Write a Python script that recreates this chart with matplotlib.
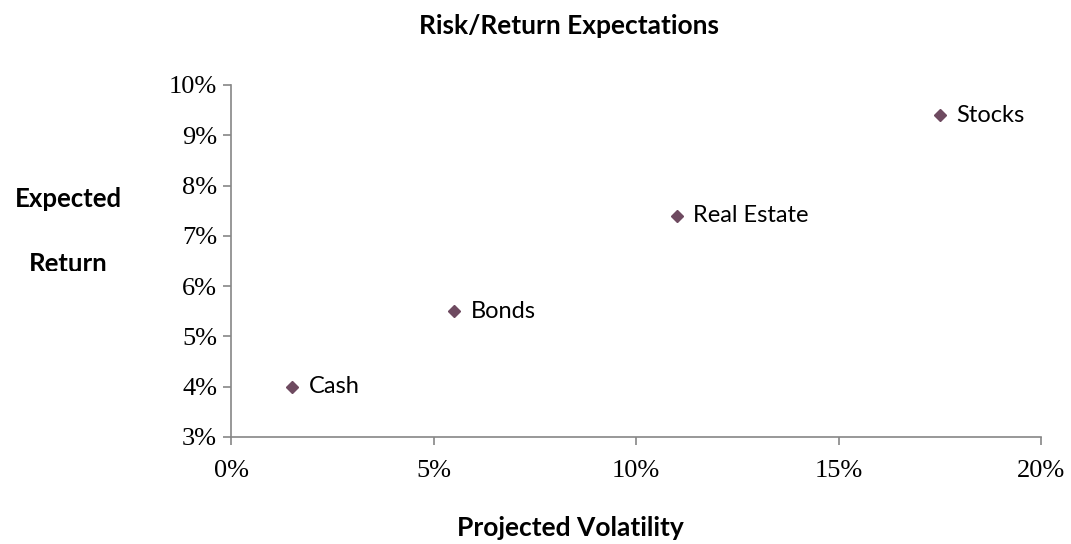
import matplotlib
matplotlib.use("Agg")
import matplotlib.pyplot as plt
from matplotlib.ticker import FuncFormatter
from matplotlib.transforms import Bbox, TransformedBbox

assets = ["Cash", "Bonds", "Real Estate", "Stocks"]
volatility = [1.5, 5.5, 11.0, 17.5]
expected_return = [4.0, 5.5, 7.4, 9.4]

x_ticks = [0, 5, 10, 15, 20]
y_ticks = [3, 4, 5, 6, 7, 8, 9, 10]

marker_color = "#6E4A60"
axis_color = "#868686"

fig = plt.figure(figsize=(10.71, 5.44), dpi=100)
ax = fig.add_axes([0.2157, 0.197, 0.7563, 0.6468])

ax.plot(volatility, expected_return, linestyle="none", marker="D",
        markersize=6.5, color=marker_color)
for name, x, y in zip(assets, volatility, expected_return):
    ax.annotate(name, (x, y), xytext=(12, 0), textcoords="offset points",
                va="center", ha="left", fontsize=17, family="Lato")

ax.set_xlim(0, 20)
ax.set_ylim(3, 10)
ax.set_xticks(x_ticks)
ax.set_yticks(y_ticks)
pct = FuncFormatter(lambda v, p: "%d%%" % v)
ax.xaxis.set_major_formatter(pct)
ax.yaxis.set_major_formatter(pct)

for s in ["top", "right"]:
    ax.spines[s].set_visible(False)
for s in ["left", "bottom"]:
    ax.spines[s].set_color(axis_color)
    ax.spines[s].set_linewidth(1.2)
ax.tick_params(direction="out", length=6, width=1.2, color=axis_color,
               labelsize=19)
ax.tick_params(axis="x", pad=11)
ax.tick_params(axis="y", pad=4)
for lab in ax.get_xticklabels() + ax.get_yticklabels():
    lab.set_family("Liberation Serif")

fig.text(0.531, 0.952, "Risk/Return Expectations", ha="center", va="center",
         fontsize=19, fontweight="bold", family="Lato")
fig.text(0.533, 0.03, "Projected Volatility", ha="center", va="center",
         fontsize=19, fontweight="bold", family="Lato")
fig.text(0.064, 0.634, "Expected", ha="center", va="center",
         fontsize=18.5, fontweight="bold", family="Lato")
ret = fig.text(0.064, 0.515, "Return", ha="center", va="center",
               fontsize=18.5, fontweight="bold", family="Lato")
# the second line of the y label is cut off in the original
ret.set_clip_box(TransformedBbox(Bbox([[0, 0.502], [0.2, 1]]), fig.transFigure))
ret.set_clip_on(True)

fig.savefig("out.png", dpi=100)
